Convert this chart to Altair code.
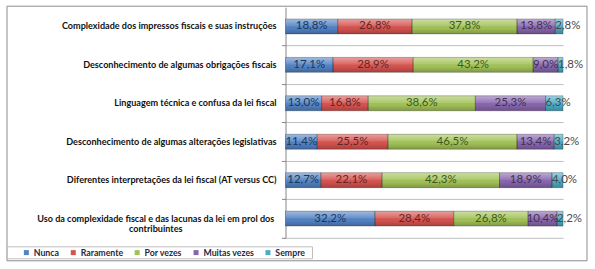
import altair as alt
import pandas as pd

categories = [
    "Complexidade dos impressos fiscais e suas instruções",
    "Desconhecimento de algumas obrigações fiscais",
    "Linguagem técnica e confusa da lei fiscal",
    "Desconhecimento de algumas alterações legislativas",
    "Diferentes interpretações da lei fiscal (AT versus CC)",
    "Uso da complexidade fiscal e das lacunas da lei em prol dos contribuintes",
]
category_lines = [
    "Complexidade dos impressos fiscais e suas instruções",
    "Desconhecimento de algumas obrigações fiscais",
    "Linguagem técnica e confusa da lei fiscal",
    "Desconhecimento de algumas alterações legislativas",
    "Diferentes interpretações da lei fiscal (AT versus CC)",
    "Uso da complexidade fiscal e das lacunas da lei em prol dos\ncontribuintes",
]
series = ["Nunca", "Raramente", "Por vezes", "Muitas vezes", "Sempre"]
nunca = [18.8, 17.1, 13.0, 11.4, 12.7, 32.2]
raramente = [26.8, 28.9, 16.8, 25.5, 22.1, 28.4]
por_vezes = [37.8, 43.2, 38.6, 46.5, 42.3, 26.8]
muitas_vezes = [13.8, 9.0, 25.3, 13.4, 18.9, 10.4]
sempre = [2.8, 1.8, 6.3, 3.2, 4.0, 2.2]

bar_colors = ["#5283C4", "#D6534F", "#A2C257", "#8866AE", "#4BACC6"]
label_colors = ["#17375E", "#632523", "#3D5A1C", "#3F3151", "#404040"]

values = [nunca, raramente, por_vezes, muitas_vezes, sempre]
rows = []
for si, s in enumerate(series):
    for ci, c in enumerate(categories):
        rows.append({"category": c, "series": s, "order": si, "value": values[si][ci]})
df = pd.DataFrame(rows)
cat_df = pd.DataFrame({"category": categories, "label": category_lines})

Y = alt.Y(
    "category:N",
    sort=categories,
    scale=alt.Scale(domain=categories, paddingInner=0, paddingOuter=0),
    axis=alt.Axis(
        labels=False, title=None, grid=True, gridColor="#BFBFBF",
        domainColor="#868686", tickColor="#868686", tickSize=4,
        bandPosition=1,
    ),
)
XS = alt.Scale(domain=[0, 100])

base = alt.Chart(df).transform_stack(
    stack="value", groupby=["category"], as_=["x0", "x1"],
    sort=[alt.SortField("order", order="ascending")],
)

bars = base.mark_bar(size=15).encode(
    y=Y,
    x=alt.X("x0:Q", scale=XS, axis=None),
    x2="x1:Q",
    color=alt.Color(
        "series:N",
        sort=series,
        scale=alt.Scale(domain=series, range=bar_colors),
        legend=alt.Legend(
            title=None, orient="none", legendX=-264, legendY=241,
            direction="horizontal", columns=5, symbolType="square",
            symbolSize=25, symbolStrokeWidth=0, labelFont="Lato",
            labelFontWeight="bold", labelFontSize=8.8, labelColor="#1F2A44",
            labelOffset=3, columnPadding=9, padding=0,
        ),
    ),
)

gloss = base.mark_bar(
    size=15,
    fill=alt.Gradient(
        gradient="linear", x1=0, x2=0, y1=0, y2=1,
        stops=[
            alt.GradientStop(color="rgba(255,255,255,0.45)", offset=0),
            alt.GradientStop(color="rgba(255,255,255,0.12)", offset=0.45),
            alt.GradientStop(color="rgba(0,0,0,0)", offset=0.6),
            alt.GradientStop(color="rgba(0,0,0,0.22)", offset=1),
        ],
    ),
    stroke="rgba(0,0,0,0.35)",
    strokeWidth=0.7,
).encode(y=Y, x=alt.X("x0:Q", scale=XS, axis=None), x2="x1:Q")

labeled = base.transform_calculate(
    mid="(datum.x0 + datum.x1) / 2",
    label="replace(format(datum.value, '.1f'), '.', ',') + '%'",
)

labels_main = labeled.transform_filter("datum.series != 'Sempre'").mark_text(
    font="Lato", fontSize=11.5, align="center", baseline="middle"
).encode(
    y=Y,
    x=alt.X("mid:Q", scale=XS, axis=None),
    text="label:N",
    color=alt.Color(
        "series:N", scale=alt.Scale(domain=series, range=label_colors), legend=None
    ),
)

labels_sempre = labeled.transform_filter("datum.series == 'Sempre'").mark_text(
    font="Lato", fontSize=11.5, align="left", baseline="middle", color="#4A4A4A", dx=0
).encode(
    y=Y,
    x=alt.X("x0:Q", scale=XS, axis=None),
    text="label:N",
)

cat_single = alt.Chart(cat_df).transform_filter(
    "indexof(datum.label, '\\n') < 0"
).mark_text(
    font="Lato", fontWeight="bold", fontSize=9.1, align="right",
    baseline="middle", color="#111111",
).encode(y=Y, x=alt.value(-9), text="label:N")

cat_wrapped = alt.Chart(cat_df).transform_filter(
    "indexof(datum.label, '\\n') >= 0"
).mark_text(
    font="Lato", fontWeight="bold", fontSize=9.1, align="center",
    baseline="middle", color="#111111", lineBreak="\n", lineHeight=10.5,
).encode(y=Y, x=alt.value(-130), text="label:N")

frame = alt.Chart(alt.Data(values=[{}])).mark_rect(
    fillOpacity=0, stroke="#8C8C8C", strokeWidth=1
).encode(x=alt.value(-279), x2=alt.value(302), y=alt.value(-1), y2=alt.value(254))

legend_box = alt.Chart(alt.Data(values=[{}])).mark_rect(
    fillOpacity=0, stroke="#BFBFBF", strokeWidth=1
).encode(x=alt.value(-279), x2=alt.value(27), y=alt.value(240), y2=alt.value(252))

chart = alt.layer(
    bars, gloss, labels_main, labels_sempre, cat_single, cat_wrapped, frame, legend_box
).resolve_scale(color="independent").properties(
    width=278, height=231,
    padding={"left": 6, "top": 5, "right": 7, "bottom": 8},
    background="white",
).configure_view(strokeWidth=0)

chart.save("out.html", embed_options={"renderer": "svg", "actions": False})
